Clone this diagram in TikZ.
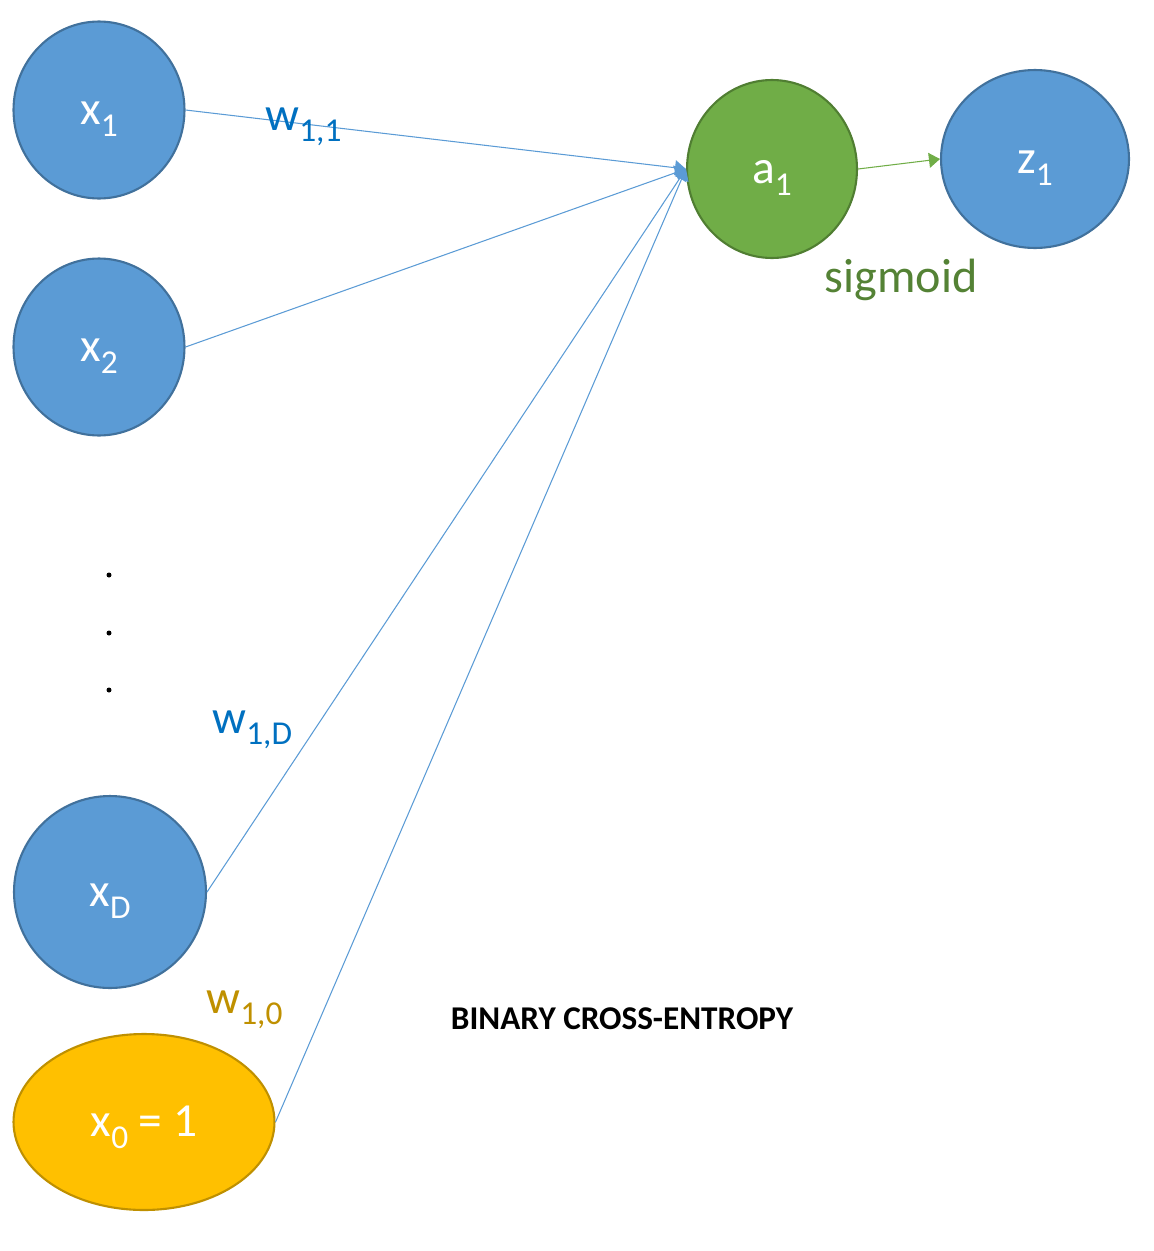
\documentclass[tikz,border=0pt]{standalone}
\usepackage{fontspec}
\setmainfont{Carlito}
\usepackage{tikz}
\usetikzlibrary{arrows.meta,shapes.geometric}
\definecolor{unitblue}{HTML}{5B9BD5}
\definecolor{unitblueline}{HTML}{41719C}
\definecolor{unitgreen}{HTML}{70AD47}
\definecolor{unitgreenline}{HTML}{507E32}
\definecolor{biasgold}{HTML}{FFC000}
\definecolor{biasgoldline}{HTML}{BF9000}
\definecolor{weightblue}{HTML}{0070C0}
\definecolor{sigmagreen}{HTML}{548235}
\newcommand{\idx}[1]{\raisebox{-0.24em}{\fontsize{19}{22}\selectfont #1}}

\begin{document}
\begin{tikzpicture}[x=0.02cm,y=-0.02cm,
    unit/.style={ellipse,draw=unitblueline,fill=unitblue,line width=1.2pt,
      text=white,inner sep=0pt,text height=21pt,text depth=4pt,
      font=\fontsize{27}{32}\selectfont},
    wlabel/.style={text=weightblue,inner sep=0pt,anchor=base west,
      font=\fontsize{27}{32}\selectfont},
    link/.style={unitblue,line width=0.6pt,-{Triangle[length=0.22cm,width=0.3cm]}}]

    % Fix the page size to the reference
    \useasboundingbox (0,0) rectangle (1153,1251);

    % Draw the input units
    \node[unit,minimum width=3.42cm,minimum height=3.54cm] (x1) at (99,110) {x\idx{1}};
    \node[unit,minimum width=3.42cm,minimum height=3.54cm] (x2) at (99,347) {x\idx{2}};
    \node[unit,minimum width=3.84cm,minimum height=3.84cm] (xD) at (110,892) {x\idx{D}};

    % Draw the bias unit
    \node[unit,draw=biasgoldline,fill=biasgold,minimum width=5.22cm,minimum height=3.52cm]
      (x0) at (144,1122) {x\idx{0} = 1};

    % Draw the dots between x2 and xD
    \foreach \py in {575,633,690}
      \fill (109,\py) circle (0.05cm);

    % Draw the activation unit and the output unit
    \node[unit,draw=unitgreenline,fill=unitgreen,minimum width=3.4cm,minimum height=3.56cm]
      (a1) at (772,169) {a\idx{1}};
    \node[unit,minimum width=3.76cm,minimum height=3.56cm] (z1) at (1035,159) {z\idx{1}};

    % Draw the weighted connections into a1
    \foreach \src in {x1,x2,xD,x0}
      \draw[link] (\src.east) -- (a1.west);
    \draw[link,unitgreen] (a1.east) -- (z1.west);

    % Draw the weight labels
    \node[wlabel] (w11) at (265,130) {w\idx{1,1}};
    \node[wlabel] (w1D) at (212,733) {w\idx{1,D}};
    \node[wlabel,text=biasgoldline] (w10) at (206,1013) {w\idx{1,0}};

    % Draw the activation and loss texts
    \node[text=sigmagreen,inner sep=0pt,anchor=base,font=\fontsize{27.4}{32}\selectfont]
      (sig) at (901,292) {sigmoid};
    \node[inner sep=0pt,anchor=base,font=\fontsize{18.9}{22}\selectfont\bfseries]
      (loss) at (622,1029) {BINARY CROSS-ENTROPY};

\end{tikzpicture}
\end{document}
